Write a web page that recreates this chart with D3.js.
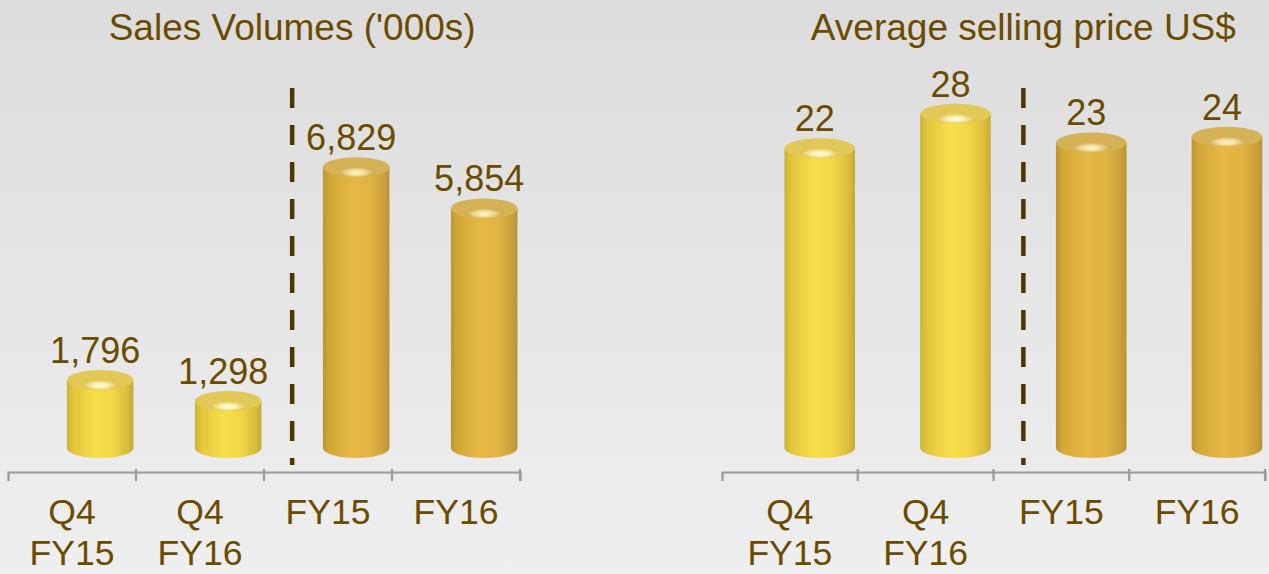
<!DOCTYPE html>
<html>
<head>
<meta charset="utf-8">
<script src="https://cdn.jsdelivr.net/npm/d3@7"></script>
<style>
  html, body { margin: 0; padding: 0; background: #e6e6e6; }
  svg { display: block; font-family: "Liberation Sans", Arial, sans-serif; }
</style>
</head>
<body>
<svg id="chart"></svg>
<script>
// chart data
const categories = ["Q4 FY15", "Q4 FY16", "FY15", "FY16"];
const categoryLines = [["Q4", "FY15"], ["Q4", "FY16"], ["FY15"], ["FY16"]];
const isQuarter = [true, true, false, false];
const volumes = [1796, 1298, 6829, 5854];
const prices = [22, 28, 23, 24];
const titles = ["Sales Volumes ('000s)", "Average selling price US$"];

const width = 1269;
const height = 574;
const textColor = "#6a4b00";
const dashColor = "#4d3600";

const svg = d3.select("#chart").attr("width", width).attr("height", height);
const defs = svg.append("defs");

// background gradient
const bg = defs.append("linearGradient").attr("id", "bg")
    .attr("x1", 0).attr("y1", 0).attr("x2", 0).attr("y2", 1);
bg.append("stop").attr("offset", "0%").attr("stop-color", "#dcdcdc");
bg.append("stop").attr("offset", "100%").attr("stop-color", "#efefef");
svg.append("rect").attr("width", width).attr("height", height).attr("fill", "url(#bg)");

// cylinder shading, one set for quarterly bars and one for full year bars
const palettes = {
    bright: {
        body: [["0%", "#cdb236"], ["10%", "#e2c63c"], ["42%", "#f8de4a"], ["70%", "#f1d545"], ["92%", "#d8bb3c"], ["100%", "#c4a83e"]],
        top: "#e2c957", glow: "#fffbe0"
    },
    gold: {
        body: [["0%", "#bb952f"], ["10%", "#d3a838"], ["45%", "#e6b944"], ["72%", "#dfb242"], ["92%", "#c9a03a"], ["100%", "#b99236"]],
        top: "#d6b257", glow: "#fff3c8"
    }
};
Object.entries(palettes).forEach(([key, p]) => {
    const g = defs.append("linearGradient").attr("id", `body-${key}`)
        .attr("x1", 0).attr("y1", 0).attr("x2", 1).attr("y2", 0);
    p.body.forEach(([o, c]) => g.append("stop").attr("offset", o).attr("stop-color", c));
    const r = defs.append("radialGradient").attr("id", `top-${key}`)
        .attr("cx", "50%").attr("cy", "75%").attr("r", "50%")
        .attr("fx", "50%").attr("fy", "78%");
    r.append("stop").attr("offset", "0%").attr("stop-color", p.glow);
    r.append("stop").attr("offset", "18%").attr("stop-color", p.glow).attr("stop-opacity", 0.8);
    r.append("stop").attr("offset", "50%").attr("stop-color", p.top);
    r.append("stop").attr("offset", "100%").attr("stop-color", p.top);
});

const panels = [
    { values: volumes, range: [8, 520], y: d3.scaleLinear().domain([0, 7000]).range([446, 149.9]), fmt: d3.format(",") },
    // the original 3D chart does not start its value axis at zero
    { values: prices, range: [722, 1265], y: d3.scaleLinear().domain([-31.5, 30]).range([446, 92.2]), fmt: d3.format("d") }
];

const axisY = 472;
const baseY = 448;
const ry = 10;

panels.forEach((panel, pi) => {
    const x = d3.scaleBand().domain(categories).range(panel.range).padding(0);
    const bw = x.bandwidth();
    const shift = bw * 0.22;   // 3D depth offset of the bars
    const g = svg.append("g");

    // title
    g.append("text")
        .attr("x", (panel.range[0] + panel.range[1]) / 2 + shift)
        .attr("y", 40)
        .attr("text-anchor", "middle")
        .attr("fill", textColor)
        .style("font-size", "37px")
        .text(titles[pi]);

    // axis, ticks on category boundaries
    const axis = g.append("g")
        .attr("transform", `translate(0,${axisY})`)
        .call(d3.axisBottom(x).tickSize(9).tickSizeOuter(9).tickFormat(""));
    axis.select(".domain").attr("stroke", "#9a9a9a").attr("stroke-width", 2.2);
    axis.selectAll(".tick line")
        .attr("transform", `translate(${bw / 2},0)`)
        .attr("y1", -3)
        .attr("stroke", "#9a9a9a").attr("stroke-width", 2.2);

    // category labels
    categories.forEach((c, i) => {
        const t = g.append("text")
            .attr("x", x(c) + bw / 2)
            .attr("y", 524)
            .attr("text-anchor", "middle")
            .attr("fill", textColor)
            .style("font-size", "35.5px");
        categoryLines[i].forEach((line, li) => {
            t.append("tspan").attr("x", x(c) + bw / 2).attr("dy", li === 0 ? 0 : 41).text(line);
        });
    });

    // dashed separator between quarterly and yearly bars
    g.append("line")
        .attr("x1", x(categories[2]) + shift).attr("x2", x(categories[2]) + shift)
        .attr("y1", 88).attr("y2", 465)
        .attr("stroke", dashColor)
        .attr("stroke-width", 4.5)
        .attr("stroke-dasharray", "20 17");

    // cylinders
    const bars = g.selectAll(".bar")
        .data(panel.values.map((v, i) => ({ v, i, c: categories[i], key: isQuarter[i] ? "bright" : "gold" })))
        .join("g").attr("class", "bar");

    bars.each(function (d) {
        const sel = d3.select(this);
        const x0 = x(d.c) + bw * 0.46;
        const w = bw * 0.52;
        const rx = w / 2;
        const cx = x0 + rx;
        const yTop = panel.y(d.v);
        const cyTop = yTop + ry;

        sel.append("path")
            .attr("d", `M${x0},${cyTop}L${x0},${baseY}A${rx},${ry} 0 0 0 ${x0 + w},${baseY}L${x0 + w},${cyTop}Z`)
            .attr("fill", `url(#body-${d.key})`);
        sel.append("ellipse")
            .attr("cx", cx).attr("cy", cyTop)
            .attr("rx", rx).attr("ry", ry)
            .attr("fill", `url(#top-${d.key})`);

        sel.append("text")
            .attr("x", cx - 5)
            .attr("y", yTop - 7)
            .attr("text-anchor", "middle")
            .attr("fill", textColor)
            .style("font-size", "36px")
            .text(panel.fmt(d.v));
    });
});
</script>
</body>
</html>
